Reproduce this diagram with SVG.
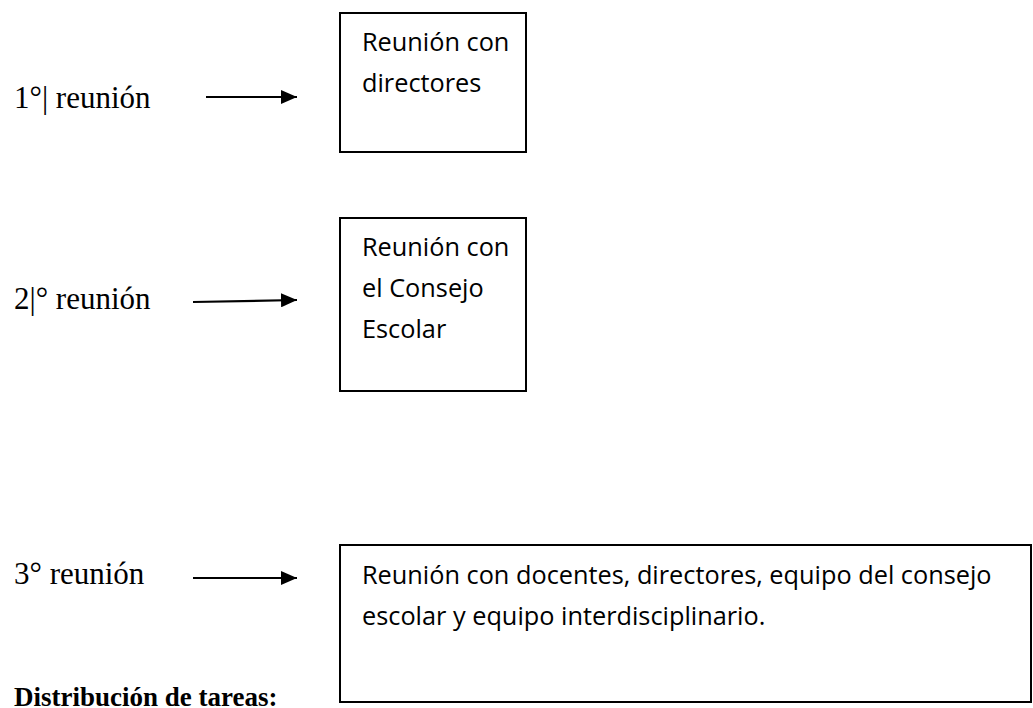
<svg xmlns="http://www.w3.org/2000/svg" width="1033" height="708" viewBox="0 0 1033 708">
<style>
.lbl{font-family:"Liberation Serif","Times New Roman",serif;font-size:31px;fill:#000}
.hd{font-family:"Liberation Serif","Times New Roman",serif;font-size:27px;font-weight:bold;fill:#000}
.bx{fill:#fff;stroke:#000;stroke-width:2}
.bt{font-family:"Open Sans","Noto Sans",sans-serif;font-size:25.3px;fill:#000}
.cn{stroke:#000;stroke-width:2.2;fill:none}
</style>
<defs>
<marker id="ah" viewBox="0 0 16 14" refX="16" refY="7" markerUnits="userSpaceOnUse" markerWidth="16" markerHeight="14" orient="auto">
<path d="M0,0 L16,7 L0,14 z" fill="#000"/>
</marker>
</defs>
<rect width="1033" height="708" fill="#fff"/>
<g id="label1"><text class="lbl" x="14" y="108">1°| reunión</text></g>
<g id="label2"><text class="lbl" x="14" y="309">2|° reunión</text></g>
<g id="label3"><text class="lbl" x="14" y="584">3° reunión</text></g>
<g id="heading"><text class="hd" x="14" y="706">Distribución de tareas:</text></g>
<g id="connectors">
<line class="cn" x1="206" y1="97" x2="297" y2="97" marker-end="url(#ah)"/>
<line class="cn" x1="193" y1="302" x2="297" y2="300" marker-end="url(#ah)"/>
<line class="cn" x1="193" y1="578" x2="297" y2="578" marker-end="url(#ah)"/>
</g>
<g id="box1">
<rect class="bx" x="340" y="13" width="186" height="139"/>
<text class="bt" x="362" y="51">Reunión con</text>
<text class="bt" x="362" y="92">directores</text>
</g>
<g id="box2">
<rect class="bx" x="340" y="218" width="186" height="173"/>
<text class="bt" x="362" y="256">Reunión con</text>
<text class="bt" x="362" y="297">el Consejo</text>
<text class="bt" x="362" y="338">Escolar</text>
</g>
<g id="box3">
<rect class="bx" x="340" y="545" width="691" height="157"/>
<text class="bt" x="362" y="584">Reunión con docentes, directores, equipo del consejo</text>
<text class="bt" x="362" y="625">escolar y equipo interdisciplinario.</text>
</g>
</svg>
